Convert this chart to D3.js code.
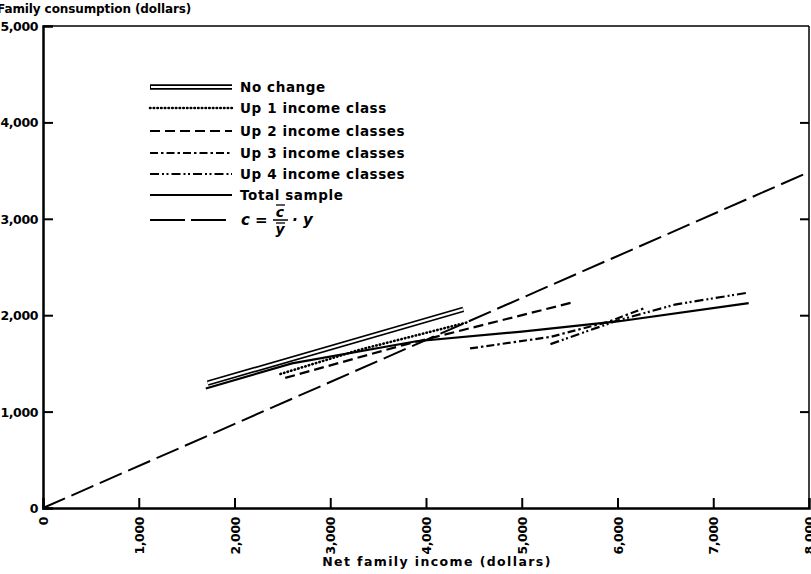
<!DOCTYPE html>
<html><head><meta charset="utf-8">
<script src="https://cdn.jsdelivr.net/npm/d3@7"></script>
<style>body{margin:0;background:#fff}svg{display:block}text{font-family:"DejaVu Sans",sans-serif;fill:#000}</style>
</head><body>
<svg id="c" width="811" height="574"></svg>
<script>
const xTicks = [0,1000,2000,3000,4000,5000,6000,7000,8000];
const yTicks = [0,1000,2000,3000,4000,5000];
const noChange = [[1720,1295],[4390,2060]];
const up1 = [[2480,1390],[3300,1640],[4450,1930]];
const up2 = [[2530,1350],[3800,1700],[5540,2135]];
const up3 = [[4460,1655],[5300,1775],[5900,1930],[6300,2080]];
const up4 = [[5300,1700],[6000,1945],[6600,2110],[7370,2235]];
const total = [[1700,1240],[2600,1500],[3900,1730],[5000,1830],[6000,1935],[7370,2125]];
const ratioLine = [[0,0],[8000,3485]];
const legendLabels = ["No change","Up 1 income class","Up 2 income classes","Up 3 income classes","Up 4 income classes","Total sample"];

const svg = d3.select("#c");
const x = d3.scaleLinear().domain([0,8000]).range([43,809]);
const y = d3.scaleLinear().domain([0,5000]).range([508,26]);
const line = d3.line().x(d=>x(d[0])).y(d=>y(d[1]));

// frame
svg.append("line").attr("x1",x(0)).attr("x2",x(8000)).attr("y1",y(5000)).attr("y2",y(5000)).attr("stroke","#000").attr("stroke-width",1.5);
svg.append("line").attr("x1",x(8000)).attr("x2",x(8000)).attr("y1",y(5000)).attr("y2",y(0)).attr("stroke","#000").attr("stroke-width",1.5);

// axes
const gx = svg.append("g").attr("transform",`translate(0,${y(0)})`)
  .call(d3.axisBottom(x).tickValues(xTicks).tickSize(-10).tickFormat(""));
gx.select(".domain").attr("stroke-width",2.5);
gx.selectAll(".tick line").attr("stroke-width",2).filter(d=>d===0||d===8000).remove();
const gy = svg.append("g").attr("transform",`translate(${x(0)},0)`)
  .call(d3.axisLeft(y).tickValues(yTicks).tickSize(-10).tickFormat(""));
gy.select(".domain").attr("stroke-width",2.5);
gy.selectAll(".tick line").attr("stroke-width",2).filter(d=>d===0||d===5000).remove();
const gr = svg.append("g").attr("transform",`translate(${x(8000)},0)`)
  .call(d3.axisRight(y).tickValues(yTicks.filter(d=>d>0&&d<5000)).tickSize(-9).tickFormat(""));
gr.select(".domain").remove();
gr.selectAll(".tick line").attr("stroke-width",2);

const fmt = d3.format(",");
svg.append("g").selectAll("text").data(yTicks).join("text")
  .attr("x",38).attr("y",d=>y(d)+5).attr("text-anchor","end")
  .attr("font-size",12.5).attr("font-weight","bold").attr("letter-spacing","-0.4").text(d=>fmt(d));
svg.append("g").selectAll("text").data(xTicks).join("text")
  .attr("transform",d=>`translate(${x(d)+5},${y(0)+9}) rotate(-90)`)
  .attr("text-anchor","end").attr("font-size",12.5).attr("font-weight","bold").attr("letter-spacing","-0.4").text(d=>fmt(d));

svg.append("text").attr("x",-3).attr("y",13).attr("font-size",12).attr("font-weight","bold").attr("letter-spacing","-0.1").text("Family consumption (dollars)");
svg.append("text").attr("x",437).attr("y",566).attr("text-anchor","middle").attr("font-size",12.5).attr("font-weight","bold").attr("letter-spacing","1.4").text("Net family income (dollars)");

// series
const styles = [
  {data:noChange, dash:null, w:2, dbl:true},
  {data:up1, dash:"0.5,3.2", w:2.6, cap:"round"},
  {data:up2, dash:"10,5", w:2.2},
  {data:up3, dash:"8,3,2.5,3", w:2.2},
  {data:up4, dash:"9,3,2,2.5,2,3", w:2.2},
  {data:total, dash:null, w:2.2},
];
function drawSeries(g, s, d){
  if(s.dbl){
    g.append("path").datum(d).attr("d",line).attr("fill","none").attr("stroke","#000").attr("stroke-width",5.5);
    g.append("path").datum(d).attr("d",line).attr("fill","none").attr("stroke","#fff").attr("stroke-width",2.2);
  } else {
    g.append("path").datum(d).attr("d",line).attr("fill","none").attr("stroke","#000").attr("stroke-width",s.w)
      .attr("stroke-dasharray",s.dash).attr("stroke-linecap",s.cap||"butt");
  }
}
const plot = svg.append("g");
plot.append("path").datum(ratioLine).attr("d",line).attr("fill","none").attr("stroke","#000").attr("stroke-width",2).attr("stroke-dasharray","24,7");
styles.forEach(s=>drawSeries(plot,s,s.data));

// legend
const lg = svg.append("g");
const rows = [87,108,131,153,174,195];
const lx0=150, lx1=232;
styles.forEach((s,i)=>{
  const yy = rows[i];
  if(s.dbl){
    lg.append("line").attr("x1",lx0).attr("x2",lx1).attr("y1",yy).attr("y2",yy).attr("stroke","#000").attr("stroke-width",5.5);
    lg.append("line").attr("x1",lx0+1).attr("x2",lx1).attr("y1",yy).attr("y2",yy).attr("stroke","#fff").attr("stroke-width",2.2);
  } else {
    lg.append("line").attr("x1",lx0).attr("x2",lx1).attr("y1",yy).attr("y2",yy).attr("stroke","#000").attr("stroke-width",s.w)
      .attr("stroke-dasharray",s.dash).attr("stroke-linecap",s.cap||"butt");
  }
  lg.append("text").attr("x",240).attr("y",yy+5).attr("font-size",13.5).attr("font-weight","bold").attr("letter-spacing","0.6").text(legendLabels[i]);
});
const cy = 220;
lg.append("line").attr("x1",lx0).attr("x2",lx1).attr("y1",cy).attr("y2",cy).attr("stroke","#000").attr("stroke-width",2).attr("stroke-dasharray","35,6");
lg.append("text").attr("x",241).attr("y",cy+5).attr("font-size",15).attr("font-style","italic").attr("font-weight","bold").text("c =");
lg.append("text").attr("x",280).attr("y",cy-3).attr("font-size",14).attr("font-style","italic").attr("font-weight","bold").attr("text-anchor","middle").text("c");
lg.append("line").attr("x1",276).attr("x2",285).attr("y1",cy-15).attr("y2",cy-15).attr("stroke","#000").attr("stroke-width",1.3);
lg.append("line").attr("x1",273).attr("x2",288).attr("y1",cy).attr("y2",cy).attr("stroke","#000").attr("stroke-width",1.5);
lg.append("text").attr("x",280).attr("y",cy+14).attr("font-size",14).attr("font-style","italic").attr("font-weight","bold").attr("text-anchor","middle").text("y");
lg.append("line").attr("x1",276).attr("x2",285).attr("y1",cy+3).attr("y2",cy+3).attr("stroke","#000").attr("stroke-width",1.3);
lg.append("text").attr("x",292).attr("y",cy+5).attr("font-size",15).attr("font-style","italic").attr("font-weight","bold").text("· y");
</script>
</body></html>
